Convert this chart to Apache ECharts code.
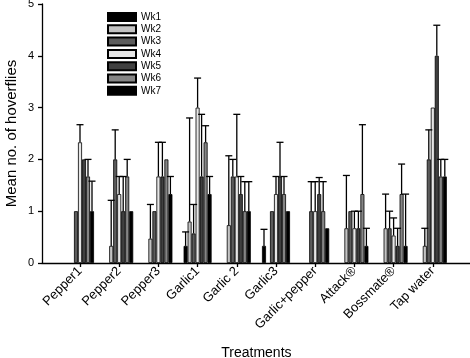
<!DOCTYPE html>
<html lang="en" style="height: 100%">
<head>
  <meta charset="utf-8">
</head>
<body style="height: 100%; margin: 0; background: #fff">
  <div id="container" style="width: 470px; height: 358px"></div>

  <script type="text/javascript" src="https://fastly.jsdelivr.net/npm/echarts@6/dist/echarts.min.js"></script>
  <script type="text/javascript">
// treatments on the x axis
var treatments = ['Pepper1', 'Pepper2', 'Pepper3', 'Garlic1', 'Garlic 2', 'Garlic3',
  'Garlic+pepper', 'Attack®', 'Bossmate®', 'Tap water'];
var weeks = ['Wk1', 'Wk2', 'Wk3', 'Wk4', 'Wk5', 'Wk6', 'Wk7'];
var weekColors = ['#000000', '#c4c4c4', '#5c5c5c', '#e6e6e6', '#404040', '#858585', '#000000'];

// mean no. of hoverflies per week (one value per treatment)
var wk1 = [0, 0, 0, 0.33, 0, 0.33, 0, 0, 0, 0];
var wk2 = [0, 0.33, 0.47, 0.8, 0.73, 0, 0, 0.67, 0.67, 0.33];
var wk3 = [1.0, 2.0, 1.0, 0.57, 1.67, 1.0, 1.0, 1.0, 0.67, 2.0];
var wk4 = [2.33, 1.33, 1.67, 3.0, 1.67, 1.33, 1.0, 0.67, 0.53, 3.0];
var wk5 = [2.0, 1.0, 1.67, 1.67, 1.33, 1.67, 1.33, 0.67, 0.33, 4.0];
var wk6 = [1.67, 1.67, 2.0, 2.33, 1.0, 1.33, 1.0, 1.33, 1.33, 1.67];
var wk7 = [1.0, 1.0, 1.33, 1.33, 1.0, 1.0, 0.67, 0.33, 0.33, 1.67];

// error (upper bar length)
var err1 = [0, 0, 0, 0.27, 0, 0.32, 0, 0, 0, 0];
var err2 = [0, 0.88, 0.66, 2.0, 1.34, 0, 0, 1.02, 0.66, 0.34];
var err3 = [0, 0.57, 0, 0.56, 0.33, 0, 0.57, 0, 0.33, 0.57];
var err4 = [0.34, 0.34, 0.66, 0.57, 1.2, 0.34, 0.57, 0.33, 0.34, 0];
var err5 = [0, 0.67, 0.66, 1.2, 0.34, 0.66, 0.32, 0.33, 0.34, 0.59];
var err6 = [0.33, 0.33, 0, 0.32, 0.57, 0.34, 0.57, 1.34, 0.58, 0.33];
var err7 = [0.58, 0, 0.34, 0.34, 0.57, 0, 0, 0.34, 1.0, 0.33];

var yTicks = [0, 1, 2, 3, 4, 5];

var means = [wk1, wk2, wk3, wk4, wk5, wk6, wk7];
var errs = [err1, err2, err3, err4, err5, err6, err7];

var BAR_W = 4;
var FONT = 'Liberation Sans, Arial, sans-serif';

var dom = document.getElementById('container');
var myChart = echarts.init(dom, null, { renderer: 'canvas' });

function errorRenderer(k) {
  return function (params, api) {
    var e = api.value(2);
    if (!e) return null;
    var base = api.coord([api.value(0), api.value(1)]);
    var top = api.coord([api.value(0), api.value(1) + e]);
    var x = base[0] + (k - 3) * BAR_W;
    var st = { stroke: '#000', lineWidth: 1.3 };
    return {
      type: 'group',
      children: [
        { type: 'line', shape: { x1: x, y1: base[1], x2: x, y2: top[1] }, style: st },
        { type: 'line', shape: { x1: x - 3.5, y1: top[1], x2: x + 3.5, y2: top[1] }, style: st }
      ]
    };
  };
}

var series = [];
weeks.forEach(function (w, k) {
  series.push({
    name: w,
    type: 'bar',
    xAxisIndex: 1,
    yAxisIndex: 1,
    barWidth: BAR_W,
    barGap: '0%',
    itemStyle: { color: weekColors[k], borderColor: '#000', borderWidth: 0.8 },
    // zero means are left empty so no outline is drawn on the baseline
    data: means[k].map(function (v) { return v === 0 ? '-' : v; })
  });
});
weeks.forEach(function (w, k) {
  series.push({
    type: 'custom',
    xAxisIndex: 1,
    yAxisIndex: 1,
    z: 3,
    renderItem: errorRenderer(k),
    data: means[k].map(function (m, i) { return [i, m, errs[k][i]]; })
  });
});

var option = {
  animation: false,
  backgroundColor: '#fff',
  textStyle: { fontFamily: FONT },
  legend: {
    data: weeks,
    orient: 'vertical',
    left: 102,
    top: 7,
    icon: 'rect',
    itemWidth: 28,
    itemHeight: 8,
    itemGap: 2.3,
    textStyle: { fontSize: 10, color: '#000', fontFamily: FONT }
  },
  grid: [
    { left: 42, right: 0, top: 4, bottom: 95, outerBoundsMode: 'none', containLabel: false },
    { left: 60.4, right: 17.6, top: 4, bottom: 95, outerBoundsMode: 'none', containLabel: false }
  ],
  xAxis: [
    {
      gridIndex: 0, type: 'value', min: 0, max: 1,
      axisLine: { show: true, lineStyle: { color: '#000', width: 1.3 } },
      axisTick: { show: false }, axisLabel: { show: false }, splitLine: { show: false }
    },
    {
      gridIndex: 1, type: 'category', data: treatments,
      name: 'Treatments', nameLocation: 'middle', nameGap: 83, nameMoveOverlap: false,
      nameTextStyle: { fontSize: 14, color: '#000', fontFamily: FONT },
      axisLine: { show: false },
      axisTick: { show: true, alignWithLabel: true, length: 4, lineStyle: { color: '#000', width: 1.3 } },
      axisLabel: { rotate: 45, fontSize: 13, color: '#000', margin: 6, interval: 0, fontFamily: FONT }
    }
  ],
  yAxis: [
    {
      gridIndex: 0, type: 'value', min: yTicks[0], max: yTicks[yTicks.length - 1], interval: 1,
      name: 'Mean no. of hoverflies', nameLocation: 'middle', nameGap: 23, nameMoveOverlap: false,
      nameTextStyle: { fontSize: 15, color: '#000', fontFamily: FONT },
      axisLine: { show: true, lineStyle: { color: '#000', width: 1.3 } },
      axisTick: { show: true, length: 4, lineStyle: { color: '#000', width: 1.3 } },
      axisLabel: { fontSize: 11, color: '#000', margin: 8, fontFamily: FONT },
      splitLine: { show: false }
    },
    {
      gridIndex: 1, type: 'value', min: yTicks[0], max: yTicks[yTicks.length - 1], interval: 1,
      show: false
    }
  ],
  series: series
};

myChart.setOption(option);
window.addEventListener('resize', myChart.resize);
  </script>
</body>
</html>
